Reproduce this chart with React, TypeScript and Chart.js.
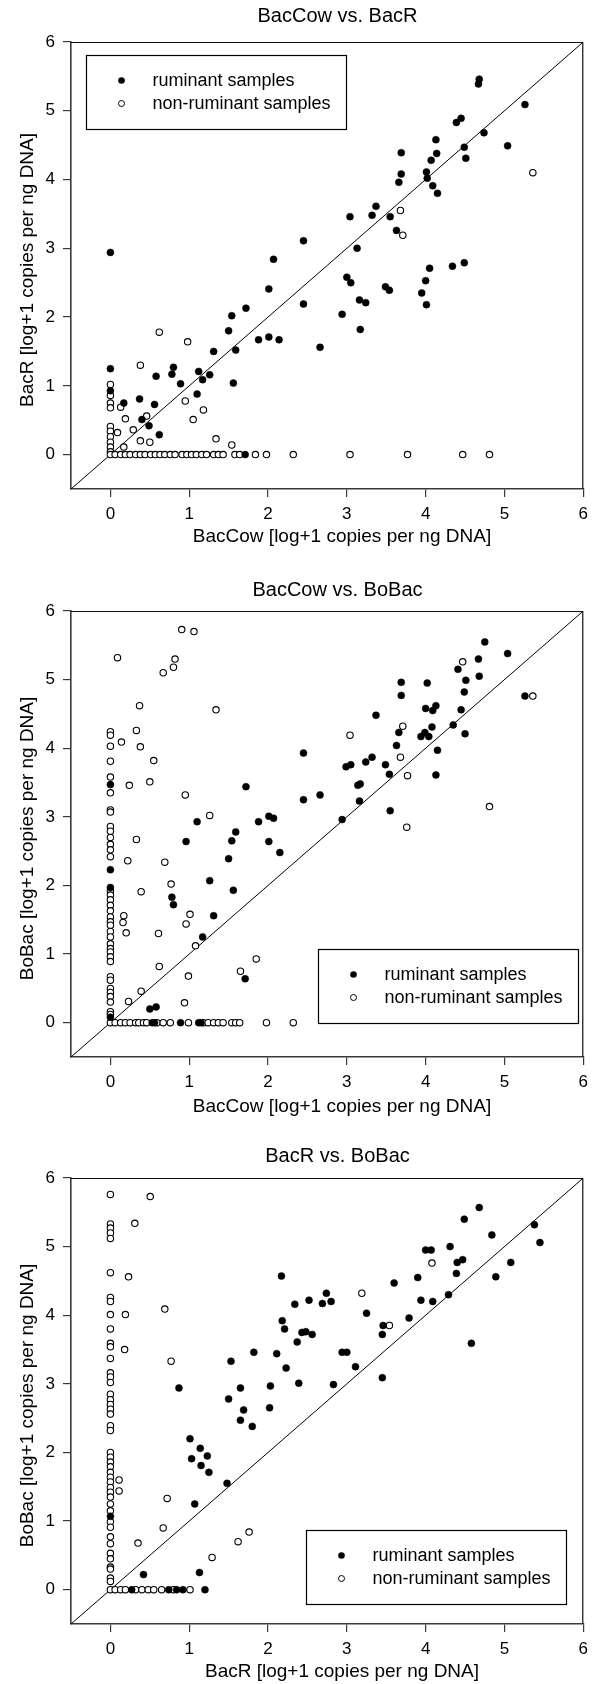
import React, { useEffect, useRef } from "react";
import { Chart, registerables } from "chart.js";

Chart.register(...registerables);

type Pt = [number, number];

// ---------- data ----------
const tickValues = [0, 1, 2, 3, 4, 5, 6];
const axisMin = -0.5;
const axisMax = 6;
const seriesNames = ["ruminant samples", "non-ruminant samples"];
const panelTitles = ["BacCow vs. BacR", "BacCow vs. BoBac", "BacR vs. BoBac"];
const xAxisTitles = [
  "BacCow [log+1 copies per ng DNA]",
  "BacCow [log+1 copies per ng DNA]",
  "BacR [log+1 copies per ng DNA]",
];
const yAxisTitles = [
  "BacR [log+1 copies per ng DNA]",
  "BoBac [log+1 copies per ng DNA]",
  "BoBac [log+1 copies per ng DNA]",
];
const identityLine: Pt[] = [[-0.5, -0.5], [6, 6]];

// Panel 1: BacCow (x) vs BacR (y)
const cowVsRRuminant: Pt[] = [
  [4.68, 5.46], [4.67, 5.39], [5.26, 5.09], [4.39, 4.83], [4.45, 4.89], [4.74, 4.68], [4.13, 4.58],
  [5.04, 4.49], [4.49, 4.47], [3.69, 4.39], [4.14, 4.38], [4.07, 4.28], [4.51, 4.31], [3.69, 4.08],
  [3.66, 3.96], [4.01, 4.11], [4.02, 4.02], [4.09, 3.91], [4.15, 3.8], [3.37, 3.61], [3.32, 3.48],
  [3.04, 3.46], [3.55, 3.46], [3.63, 3.26], [2.45, 3.11], [3.13, 3.0], [4.05, 2.71], [4.34, 2.74],
  [4.49, 2.79], [2.45, 2.19], [3.0, 2.58], [3.05, 2.5], [2.94, 2.04], [2.66, 1.56], [3.16, 2.25],
  [3.24, 2.21], [3.17, 1.82], [3.49, 2.44], [3.54, 2.39], [3.95, 2.35], [4.0, 2.53], [4.01, 2.18],
  [0, 2.94], [2.07, 2.84], [2.01, 2.41], [1.72, 2.13], [1.54, 2.02], [1.5, 1.8], [1.59, 1.52],
  [1.31, 1.5], [1.88, 1.67], [2.01, 1.71], [2.14, 1.67], [0, 1.25], [0.8, 1.27], [0.78, 1.17],
  [1.12, 1.21], [0.58, 1.14], [1.26, 1.16], [1.17, 1.09], [0.89, 1.03], [1.56, 1.04], [1.1, 0.88],
  [0, 0.93], [0.37, 0.81], [0.17, 0.75], [0.56, 0.73], [0.4, 0.51], [0.49, 0.42], [0.62, 0.29],
  [1.71, 0],
];
const cowVsRNonRuminant: Pt[] = [
  [5.36, 4.1], [3.68, 3.55], [3.71, 3.19], [3.04, 0], [3.77, 0], [4.47, 0], [4.81, 0],
  [0.62, 1.78], [0.98, 1.64], [0.38, 1.3], [0, 1.02], [0, 0.86], [0, 0.75], [0, 0.68], [0.13, 0.69],
  [0.95, 0.78], [1.18, 0.65], [0.19, 0.52], [0.46, 0.56], [1.05, 0.51], [0.29, 0.36], [0.09, 0.32],
  [0, 0.41], [0, 0.34], [0, 0.26], [0, 0.18], [0, 0.11], [0, 0.04], [0.38, 0.2], [0.5, 0.18],
  [0.17, 0.11], [1.34, 0.23], [1.54, 0.14],
  [0, 0], [0.06, 0], [0.13, 0], [0.19, 0], [0.25, 0], [0.32, 0], [0.38, 0], [0.44, 0], [0.51, 0],
  [0.57, 0], [0.63, 0], [0.69, 0], [0.76, 0], [0.82, 0], [0.91, 0], [0.97, 0], [1.03, 0], [1.09, 0],
  [1.16, 0], [1.22, 0], [1.31, 0], [1.37, 0], [1.43, 0], [1.58, 0], [1.64, 0], [1.84, 0], [1.98, 0],
  [2.32, 0],
];

// Panel 2: BacCow (x) vs BoBac (y)
const cowVsBoRuminant: Pt[] = [
  [4.75, 5.55], [5.04, 5.38], [4.67, 5.3], [4.41, 5.15], [4.68, 5.05], [4.51, 4.99], [3.69, 4.96],
  [4.02, 4.95], [3.69, 4.77], [4.49, 4.82], [5.26, 4.76], [4.0, 4.58], [4.09, 4.55], [4.13, 4.62],
  [4.45, 4.56], [3.37, 4.48], [4.08, 4.31], [4.35, 4.34], [3.66, 4.23], [3.99, 4.23], [3.94, 4.17],
  [4.04, 4.17], [4.5, 4.21], [3.63, 4.04], [4.15, 3.97], [4.13, 3.61], [2.45, 3.93], [2.99, 3.73],
  [3.05, 3.76], [3.24, 3.8], [3.32, 3.87], [3.49, 3.76], [3.54, 3.62], [3.14, 3.46], [3.17, 3.48],
  [2.45, 3.25], [2.66, 3.32], [3.16, 3.23], [3.55, 3.09], [2.94, 2.96],
  [0, 3.47], [1.72, 3.44], [1.1, 2.93], [1.88, 2.93], [2.01, 3.01], [2.07, 2.98], [0, 2.23],
  [0, 1.97], [0.96, 2.64], [1.54, 2.65], [1.59, 2.78], [1.5, 2.39], [2.01, 2.64], [2.15, 2.48],
  [1.26, 2.07], [1.56, 1.93], [0.78, 1.83], [0.8, 1.72], [1.31, 1.56], [1.17, 1.25], [1.71, 0.64],
  [0.5, 0.2], [0.58, 0.23], [0, 0.08], [0.53, 0], [0.56, 0], [0.89, 0], [1.12, 0], [1.15, 0],
];
const cowVsBoNonRuminant: Pt[] = [
  [4.47, 5.26], [5.36, 4.76], [3.71, 4.32], [3.04, 4.19], [3.68, 3.87], [3.77, 3.6], [4.81, 3.15],
  [3.76, 2.85], [0.905, 5.73], [1.06, 5.7], [0.09, 5.32], [0.82, 5.3], [0.8, 5.18], [0.67, 5.1],
  [0.37, 4.62], [1.34, 4.56], [0, 4.24], [0, 4.19], [0.33, 4.26], [0.14, 4.09], [0, 4.03],
  [0.38, 4.02], [0, 3.81], [0.55, 3.82], [0, 3.58], [0, 3.35], [0.24, 3.46], [0.5, 3.51],
  [0.95, 3.32], [0, 3.1], [0, 3.07], [1.26, 3.02],
  [0, 2.86], [0, 2.79], [0, 2.7], [0, 2.6], [0, 2.52], [0, 2.42], [0, 1.92], [0, 1.86], [0, 1.79],
  [0, 1.71], [0, 1.63], [0, 1.54], [0, 1.47], [0, 1.42], [0, 1.33], [0, 1.25], [0, 1.15], [0, 1.08],
  [0, 1.03], [0, 0.96], [0, 0.89], [0, 0.67], [0, 0.62], [0, 0.5], [0, 0.44], [0, 0.38], [0, 0.3],
  [0, 0.16], [0, 0.12],
  [0.33, 2.67], [0.22, 2.36], [0.69, 2.34], [0.77, 2.02], [0.39, 1.91], [0.17, 1.56], [0.16, 1.46],
  [0.2, 1.31], [0.61, 1.3], [1.01, 1.58], [0.96, 1.44], [1.08, 1.12], [0.62, 0.82], [0.99, 0.68],
  [1.85, 0.93], [1.65, 0.75], [0.39, 0.46], [0.23, 0.31], [0.94, 0.29],
  [0, 0], [0.06, 0], [0.13, 0], [0.19, 0], [0.25, 0], [0.32, 0], [0.36, 0], [0.42, 0], [0.46, 0],
  [0.59, 0], [0.67, 0], [0.76, 0], [0.99, 0], [1.18, 0], [1.24, 0], [1.31, 0], [1.37, 0], [1.43, 0],
  [1.54, 0], [1.59, 0], [1.64, 0], [1.98, 0], [2.32, 0],
];

// Panel 3: BacR (x) vs BoBac (y)
const rVsBoRuminant: Pt[] = [
  [2.17, 4.57], [2.18, 3.92], [2.21, 3.8], [2.34, 4.16], [2.52, 4.22], [2.69, 4.17], [2.74, 4.32],
  [2.43, 3.75], [2.48, 3.76], [2.56, 3.72], [2.37, 3.61], [2.11, 3.44], [1.82, 3.46], [1.53, 3.33],
  [2.23, 3.23], [2.03, 2.97], [2.39, 3.01], [0.87, 2.94], [1.65, 2.94],
  [4.68, 5.57], [4.49, 5.4], [5.38, 5.32], [4.84, 5.17], [5.45, 5.06], [4.0, 4.95], [4.07, 4.95],
  [4.31, 5.0], [4.4, 4.77], [4.47, 4.81], [5.08, 4.77], [4.39, 4.61], [4.89, 4.56], [3.9, 4.55],
  [3.6, 4.47], [4.29, 4.3], [3.94, 4.22], [4.09, 4.2], [2.8, 4.2], [3.25, 4.03], [3.79, 3.96],
  [3.46, 3.85], [3.45, 3.72], [2.94, 3.46], [3.0, 3.46], [3.11, 3.25], [4.58, 3.59], [3.45, 3.09],
  [2.83, 2.99],
  [1.5, 2.78], [1.69, 2.62], [1.65, 2.47], [1.8, 2.38], [2.02, 2.65], [1.01, 2.2], [1.14, 2.06],
  [1.03, 1.91], [1.23, 1.95], [1.15, 1.81], [1.25, 1.71], [1.48, 1.55], [1.07, 1.25], [0.42, 0.22],
  [1.13, 0.25], [1.2, 0], [0.27, 0], [0.74, 0], [0.84, 0], [0.92, 0], [0, 1.07],
];
const rVsBoNonRuminant: Pt[] = [
  [4.08, 4.76], [3.19, 4.32], [3.54, 3.85],
  [0, 5.76], [0.505, 5.73], [0, 5.33], [0, 5.27], [0, 5.2], [0, 5.12], [0.31, 5.34], [0, 4.62],
  [0.23, 4.56], [0, 4.26], [0, 4.2], [0, 4.01], [0.19, 4.01], [0.69, 4.09], [0, 3.8], [0, 3.59],
  [0, 3.54], [0.18, 3.5], [0, 3.37], [0.77, 3.33], [0, 3.16], [0, 3.1], [0, 3.02],
  [0, 2.85], [0, 2.77], [0, 2.7], [0, 2.63], [0, 2.56], [0, 2.39], [0, 2.32], [0, 2.0], [0, 1.93],
  [0, 1.86], [0, 1.79], [0, 1.71], [0, 1.64], [0, 1.57], [0, 1.49], [0, 1.42], [0, 1.35], [0, 1.25],
  [0, 1.15], [0, 0.99], [0, 0.91], [0, 0.77], [0, 0.67], [0, 0.53], [0, 0.45], [0, 0.33], [0, 0.3],
  [0, 0.17], [0, 0.12],
  [0.11, 1.6], [0.11, 1.44], [0.72, 1.33], [0.67, 0.9], [0.35, 0.68], [1.76, 0.84], [1.62, 0.7],
  [1.29, 0.47],
  [0, 0], [0.06, 0], [0.13, 0], [0.19, 0], [0.32, 0], [0.4, 0], [0.48, 0], [0.55, 0], [0.65, 0],
  [0.8, 0], [1.01, 0],
];

const ruminantByPanel = [cowVsRRuminant, cowVsBoRuminant, rVsBoRuminant];
const nonRuminantByPanel = [cowVsRNonRuminant, cowVsBoNonRuminant, rVsBoNonRuminant];

// ---------- layout / style ----------
const FONT = '"Liberation Sans", Arial, Helvetica, sans-serif';
const PAGE_W = 595;
const PLOT_LEFT = 71;
const PLOT_RIGHT = 586;
const AXIS_COLOR = "#3a3a3a";

type PanelLayout = {
  top: number;
  height: number;
  plotTop: number;
  plotBottom: number;
  titleY: number;
  xLabelY: number;
  legendX: number;
  legendY: number;
};

const panelLayouts: PanelLayout[] = [
  { top: 0, height: 565, plotTop: 42, plotBottom: 489, titleY: 21.5, xLabelY: 542, legendX: 86, legendY: 55 },
  { top: 565, height: 565, plotTop: 611, plotBottom: 1057, titleY: 595.5, xLabelY: 1111.5, legendX: 318, legendY: 949 },
  { top: 1130, height: 554, plotTop: 1178, plotBottom: 1624, titleY: 1161.5, xLabelY: 1677, legendX: 306, legendY: 1530 },
];

const toXY = (pts: Pt[]) => pts.map(([x, y]) => ({ x, y }));

function makeDecorPlugin(i: number) {
  const L = panelLayouts[i];
  return {
    id: "decor" + i,
    afterDraw(chart: any) {
      const { ctx, chartArea: ca } = chart;
      ctx.save();
      // top & right frame lines
      ctx.strokeStyle = "#111";
      ctx.lineWidth = 1.2;
      ctx.beginPath();
      ctx.moveTo(ca.left, ca.top + 0.5);
      ctx.lineTo(ca.right - 0.5, ca.top + 0.5);
      ctx.lineTo(ca.right - 0.5, ca.bottom);
      ctx.stroke();

      ctx.fillStyle = "#000";
      ctx.textAlign = "center";
      ctx.textBaseline = "alphabetic";
      // title
      ctx.font = `20px ${FONT}`;
      ctx.fillText(panelTitles[i], 337.5, L.titleY - L.top);
      // x-axis title
      ctx.font = `19px ${FONT}`;
      ctx.fillText(xAxisTitles[i], 342, L.xLabelY - L.top);
      // y-axis title
      ctx.save();
      ctx.translate(33, (ca.top + ca.bottom) / 2 + 4.5);
      ctx.rotate(-Math.PI / 2);
      ctx.fillText(yAxisTitles[i], 0, 0);
      ctx.restore();

      // legend box
      const lx = L.legendX;
      const ly = L.legendY - L.top;
      ctx.fillStyle = "#fff";
      ctx.fillRect(lx, ly, 260, 74);
      ctx.strokeStyle = "#000";
      ctx.lineWidth = 1.2;
      ctx.strokeRect(lx + 0.5, ly + 0.5, 260, 74);
      ctx.font = `18px ${FONT}`;
      ctx.textAlign = "left";
      ctx.textBaseline = "middle";
      ctx.fillStyle = "#000";
      // filled marker
      ctx.beginPath();
      ctx.arc(lx + 35.5, ly + 25.5, 3.3, 0, Math.PI * 2);
      ctx.fill();
      ctx.fillText(seriesNames[0], lx + 66.5, ly + 26);
      // open marker
      ctx.beginPath();
      ctx.arc(lx + 35.5, ly + 48.5, 3, 0, Math.PI * 2);
      ctx.lineWidth = 1;
      ctx.stroke();
      ctx.fillText(seriesNames[1], lx + 66.5, ly + 49);
      ctx.restore();
    },
  };
}

function Panel({ index }: { index: number }) {
  const ref = useRef<HTMLCanvasElement>(null);
  const L = panelLayouts[index];

  useEffect(() => {
    if (!ref.current) return;
    const tickFont = { family: FONT, size: 17 };
    const chart = new Chart(ref.current, {
      type: "scatter",
      data: {
        datasets: [
          {
            label: seriesNames[0],
            data: toXY(ruminantByPanel[index]),
            pointStyle: "circle",
            pointRadius: 3.5,
            pointBackgroundColor: "#000",
            pointBorderColor: "#000",
            pointBorderWidth: 0.5,
          },
          {
            label: seriesNames[1],
            data: toXY(nonRuminantByPanel[index]),
            pointStyle: "circle",
            pointRadius: 3.2,
            pointBackgroundColor: "#fff",
            pointBorderColor: "#000",
            pointBorderWidth: 1.1,
          },
          {
            label: "y = x",
            data: toXY(identityLine),
            showLine: true,
            borderColor: "#000",
            borderWidth: 1,
            pointRadius: 0,
            fill: false,
          },
        ] as any,
      },
      options: {
        animation: false,
        responsive: false,
        devicePixelRatio: 1,
        events: [],
        layout: {
          padding: { left: 0, right: PAGE_W - PLOT_RIGHT, top: L.plotTop - L.top, bottom: 0 },
        },
        plugins: {
          legend: { display: false },
          title: { display: false },
          tooltip: { enabled: false },
        },
        scales: {
          x: {
            type: "linear",
            min: axisMin,
            max: axisMax,
            afterBuildTicks: (s: any) => {
              s.ticks = tickValues.map((v) => ({ value: v }));
            },
            afterFit: (s: any) => {
              s.height = L.top + L.height - L.plotBottom;
            },
            ticks: { font: tickFont, color: "#000", padding: 7, maxRotation: 0 },
            grid: {
              display: true,
              drawOnChartArea: false,
              drawTicks: true,
              tickLength: 8,
              color: AXIS_COLOR,
              lineWidth: 1.2,
            },
            border: { display: true, color: AXIS_COLOR, width: 1.6 },
          },
          y: {
            type: "linear",
            min: axisMin,
            max: axisMax,
            afterBuildTicks: (s: any) => {
              s.ticks = tickValues.map((v) => ({ value: v }));
            },
            afterFit: (s: any) => {
              s.width = PLOT_LEFT;
            },
            ticks: { font: tickFont, color: "#000", padding: 8 },
            grid: {
              display: true,
              drawOnChartArea: false,
              drawTicks: true,
              tickLength: 8,
              color: AXIS_COLOR,
              lineWidth: 1.2,
            },
            border: { display: true, color: AXIS_COLOR, width: 1.6 },
          },
        },
      } as any,
      plugins: [makeDecorPlugin(index)],
    });
    return () => chart.destroy();
  }, [index]);

  return (
    <canvas
      ref={ref}
      width={PAGE_W}
      height={L.height}
      style={{ position: "absolute", left: 0, top: L.top, width: PAGE_W, height: L.height }}
    />
  );
}

export default function App() {
  return (
    <div
      style={{
        position: "absolute",
        left: 0,
        top: 0,
        width: PAGE_W,
        height: 1684,
        background: "#fff",
        overflow: "hidden",
      }}
    >
      {panelLayouts.map((_, i) => (
        <Panel key={i} index={i} />
      ))}
    </div>
  );
}
